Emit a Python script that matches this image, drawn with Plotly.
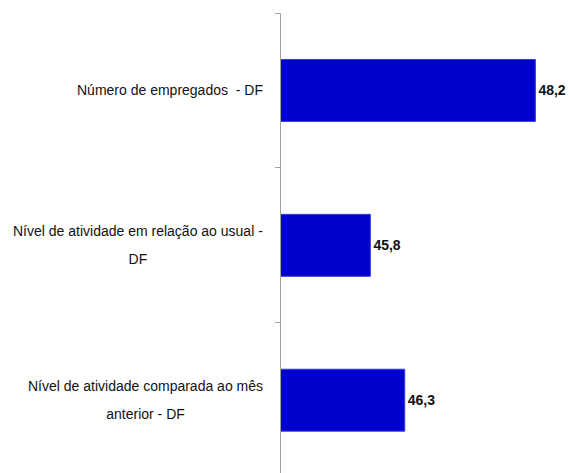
import plotly.graph_objects as go

categories = [
    "Número de empregados  - DF",
    "Nível de atividade em relação ao usual -\nDF",
    "Nível de atividade comparada ao mês\nanterior - DF",
]
values = [48.2, 45.8, 46.3]
value_labels = [f"{v:.1f}".replace(".", ",") for v in values]

FONT = "Liberation Sans, Arial, sans-serif"
LABEL_PX = 14
SPACING_FONT = 21.5  # gives ~28px line pitch (1.3em)

fig = go.Figure()
fig.add_trace(go.Bar(
    y=list(range(len(categories))),
    x=values,
    base=0,
    orientation="h",
    width=0.4,
    marker=dict(color="#0000CC", line=dict(color="#3B3BE0", width=1)),
    text=value_labels,
    textposition="outside",
    textfont=dict(family=FONT, size=14, color="#111111", weight="bold"),
    cliponaxis=False,
    hoverinfo="skip",
))

for i, lab in enumerate(categories):
    html = "<br>".join(
        f"<span style='font-size:{LABEL_PX}px'>{ln}</span>" for ln in lab.split("\n")
    )
    fig.add_annotation(
        x=0, xref="paper", xanchor="right", xshift=-16,
        y=i, yref="y", yanchor="middle",
        text=html, showarrow=False, align="center",
        font=dict(family=FONT, size=SPACING_FONT, color="#111111"),
    )

fig.update_layout(
    width=569, height=473,
    margin=dict(l=281, r=13, t=13, b=0),
    paper_bgcolor="white", plot_bgcolor="white",
    showlegend=False,
)
fig.update_xaxes(range=[44.5, 48.5], visible=False)
fig.update_yaxes(
    range=[2.47, -0.5],
    tickmode="array", tickvals=[-0.5, 0.5, 1.5, 2.5], showticklabels=False,
    ticks="outside", ticklen=5, tickcolor="#A0A0A0", tickwidth=1,
    showline=True, linecolor="#A0A0A0", linewidth=1,
    showgrid=False, zeroline=False,
)

fig.write_html(
    "out.html",
    config={"displayModeBar": False},
    post_script="document.body.style.margin='0';document.body.style.overflow='hidden';",
)
